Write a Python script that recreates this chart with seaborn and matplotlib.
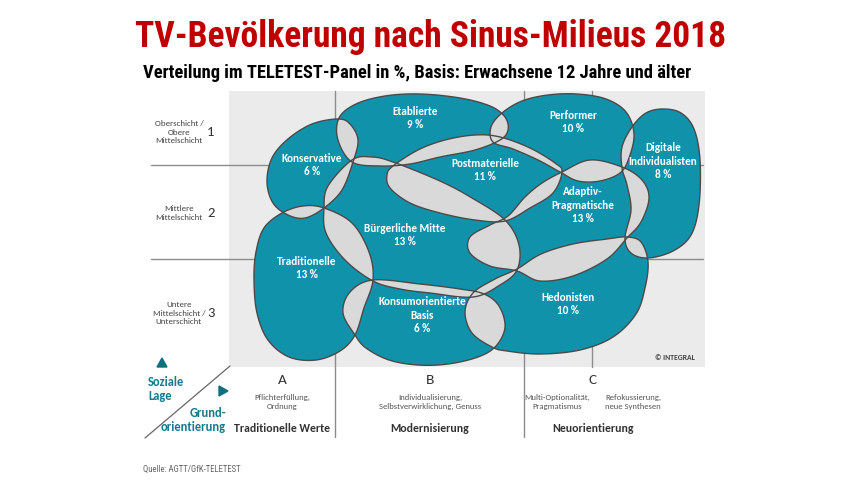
import numpy as np
import matplotlib
matplotlib.use("Agg")
import matplotlib.pyplot as plt
from matplotlib.path import Path
from matplotlib.patches import PathPatch, Rectangle, Polygon
import seaborn as sns

# Milieus and their share of the TELETEST panel (%)
milieus = ["Etablierte", "Performer", "Digitale\nIndividualisten", "Konservative",
           "Postmaterielle", "Adaptiv-\nPragmatische", "Bürgerliche Mitte",
           "Traditionelle", "Konsumorientierte\nBasis", "Hedonisten"]
shares = [9, 10, 8, 6, 11, 13, 13, 13, 6, 10]

# axis labels
social_classes = ["Oberschicht /\nObere\nMittelschicht", "Mittlere\nMittelschicht",
                  "Untere\nMittelschicht /\nUnterschicht"]
class_numbers = ["1", "2", "3"]
orient_letters = ["A", "B", "C"]
orient_desc = ["Pflichterfüllung,\nOrdnung",
               "Individualisierung,\nSelbstverwirklichung, Genuss",
               "Multi-Optionalität,\nPragmatismus", "Refokussierung,\nneue Synthesen"]
orient_names = ["Traditionelle Werte", "Modernisierung", "Neuorientierung"]

# --- layout (pixel coordinates of the 864x486 canvas) ---
label_pos = [(415, 118), (573, 122), (663, 161), (312, 165), (485, 170),
             (583, 205), (405, 235), (307, 268), (422, 315), (568, 304)]

outlines = [
    # Etablierte
    [(352, 162), (338, 140), (339, 118), (356, 104), (385, 96), (420, 94), (460, 98),
     (490, 106), (505, 117), (508, 130), (500, 140), (475, 150), (440, 157), (410, 164), (380, 166)],
    # Performer
    [(493, 142), (491, 127), (502, 113), (522, 101), (548, 95), (577, 94), (606, 99),
     (626, 112), (634, 134), (629, 158), (620, 173), (600, 181), (578, 181), (560, 172),
     (538, 160), (513, 149)],
    # Digitale Individualisten
    [(622, 168), (622, 147), (632, 127), (646, 113), (663, 109), (681, 113), (694, 129),
     (700, 160), (699, 205), (691, 235), (673, 251), (648, 258), (631, 253), (625, 238),
     (631, 210), (627, 185)],
    # Konservative
    [(338, 119), (312, 124), (288, 139), (272, 158), (267, 182), (273, 203), (288, 215),
     (305, 218), (324, 208), (342, 190), (353, 162), (358, 140), (350, 124)],
    # Postmaterielle
    [(393, 166), (418, 150), (445, 140), (475, 135), (500, 137), (530, 148), (555, 163),
     (562, 172), (553, 193), (530, 208), (505, 221), (475, 220), (440, 213), (410, 203),
     (390, 188), (387, 175)],
    # Adaptiv-Pragmatische
    [(562, 172), (590, 160), (622, 167), (642, 180), (649, 198), (641, 222), (627, 238),
     (607, 259), (573, 276), (540, 281), (517, 271), (490, 266), (470, 253), (470, 237),
     (490, 225), (508, 216), (525, 197), (542, 183)],
    # Bürgerliche Mitte
    [(352, 160), (372, 157), (393, 162), (440, 181), (472, 198), (505, 220), (519, 245),
     (517, 270), (500, 285), (473, 297), (430, 293), (400, 289), (373, 281), (345, 260),
     (326, 233), (324, 208), (328, 186)],
    # Traditionelle
    [(282, 213), (303, 206), (324, 208), (352, 223), (369, 252), (373, 280), (364, 308),
     (355, 335), (340, 351), (316, 360), (289, 357), (268, 340), (257, 313), (254, 280),
     (256, 252), (264, 228)],
    # Konsumorientierte Basis
    [(373, 280), (420, 284), (460, 289), (484, 294), (499, 306), (505, 327), (496, 346),
     (478, 357), (448, 364), (418, 365), (389, 360), (366, 348), (355, 335), (343, 313),
     (350, 292)],
    # Hedonisten
    [(473, 293), (495, 279), (517, 269), (541, 254), (573, 244), (607, 239), (627, 237),
     (641, 242), (648, 262), (645, 288), (636, 314), (613, 337), (580, 350), (540, 354),
     (507, 351), (492, 347), (472, 333), (465, 312)],
]

TEAL = "#1192ab"
LENS = "#d9d9d9"
PANEL = "#ebebeb"
EDGE = "#4a4a4a"
COND = ["Roboto Condensed", "DejaVu Sans"]


def smooth(pts, n=24):
    # closed Catmull-Rom spline through the outline points
    P = np.asarray(pts, float)
    k = len(P)
    t = np.linspace(0, 1, n, endpoint=False)[:, None]
    seg = []
    for i in range(k):
        p0, p1, p2, p3 = P[i - 1], P[i], P[(i + 1) % k], P[(i + 2) % k]
        seg.append(0.5 * (2 * p1 + (-p0 + p2) * t + (2 * p0 - 5 * p1 + 4 * p2 - p3) * t ** 2
                          + (-p0 + 3 * p1 - 3 * p2 + p3) * t ** 3))
    return np.vstack(seg + [P[:1]])


sns.set_theme(style="white")
plt.rcParams["font.family"] = ["Carlito", "DejaVu Sans"]

fig = plt.figure(figsize=(8.64, 4.86), dpi=100)
ax = fig.add_axes([0, 0, 1, 1])
ax.set_xlim(0, 864)
ax.set_ylim(486, 0)
ax.axis("off")

# titles
ax.text(431, 37, "TV-Bevölkerung nach Sinus-Milieus 2018", ha="center", va="center",
        color="#c00000", fontsize=25.6, fontweight="bold", family=COND)
ax.text(143, 73, "Verteilung im TELETEST-Panel in %, Basis: Erwachsene 12 Jahre und älter",
        ha="left", va="center", color="black", fontsize=13.3, fontweight="bold", family=COND)

# panel and grid
ax.add_patch(Rectangle((229, 91), 476, 276, facecolor=PANEL, edgecolor="none", zorder=0))
grid_kw = dict(color="#8c8c8c", lw=1.0, zorder=1)
for y in (165, 259):
    ax.plot([151, 703], [y, y], **grid_kw)
ax.plot([335, 335], [91, 437], **grid_kw)
ax.plot([524, 524], [91, 437], **grid_kw)
ax.plot([592, 592], [91, 367], **grid_kw)

# milieu blobs
curves = [smooth(o) for o in outlines]
patches = []
for c in curves:
    p = PathPatch(Path(c, closed=True), facecolor=TEAL, edgecolor="none", zorder=2)
    ax.add_patch(p)
    patches.append(p)
# overlaps in light grey
for i in range(len(curves)):
    for j in range(i + 1, len(curves)):
        g = PathPatch(Path(curves[j], closed=True), facecolor=LENS, edgecolor="none", zorder=3)
        ax.add_patch(g)
        g.set_clip_path(patches[i])
for c in curves:
    ax.add_patch(PathPatch(Path(c, closed=True), facecolor="none", edgecolor=EDGE,
                           lw=1.0, zorder=4))

for name, share, (x, y) in zip(milieus, shares, label_pos):
    ax.text(x, y, f"{name}\n{share} %", ha="center", va="center", color="white",
            fontsize=8, fontweight="bold", linespacing=1.3, zorder=5)

ax.text(675, 357, "© INTEGRAL", ha="center", va="center", fontsize=5.5,
        fontweight="bold", color="#444444", zorder=5)

# social class axis
for lab, num, y in zip(social_classes, class_numbers, (132, 213, 313)):
    ax.text(179, y, lab, ha="center", va="center", fontsize=6.4, color="#444444",
            linespacing=1.25)
    ax.text(211, y, num, ha="center", va="center", fontsize=10.5, color="#333333")

# orientation axis
for lab, x in zip(orient_letters, (282, 430, 593)):
    ax.text(x, 380, lab, ha="center", va="center", fontsize=11, color="#333333")
for lab, x in zip(orient_desc, (282, 430, 557, 633)):
    ax.text(x, 402, lab, ha="center", va="center", fontsize=6.2, color="#555555",
            linespacing=1.3)
for lab, x in zip(orient_names, (282, 430, 593)):
    ax.text(x, 428, lab, ha="center", va="center", fontsize=8.5, fontweight="bold",
            color="#333333")

# corner legend
ax.plot([145, 230], [438, 366], color="#666666", lw=0.9)
ax.add_patch(Polygon([(157, 367), (167, 367), (162, 358)], closed=True, color="#0f6f80"))
ax.add_patch(Polygon([(219, 386), (219, 396), (228, 391)], closed=True, color="#0f6f80"))
ax.text(148, 389, "Soziale\nLage", ha="left", va="center", fontsize=9, fontweight="bold",
        color="#137a8f", linespacing=1.2)
ax.text(226, 420, "Grund-\norientierung", ha="right", va="center", fontsize=9,
        fontweight="bold", color="#137a8f", linespacing=1.2)

ax.text(143, 469, "Quelle: AGTT/GfK-TELETEST", ha="left", va="center", fontsize=6.3,
        color="#666666", family=COND)

fig.savefig("out.png", dpi=100)
